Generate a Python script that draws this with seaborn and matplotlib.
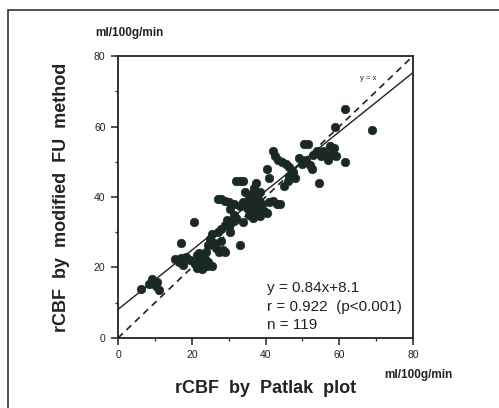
import numpy as np
import pandas as pd
import seaborn as sns
import matplotlib.pyplot as plt
from matplotlib.patches import Rectangle
from matplotlib.ticker import MultipleLocator

# ------------------------------
# Data
# ------------------------------
patlak = [
    6.3, 8.5, 9.2, 9.8, 10.3, 11.0, 10.6,
    15.5, 16.5, 17.0, 17.5, 18.5, 19.5, 17.2, 20.5,
    21.0, 21.5, 22.0, 22.3, 22.8, 23.0, 23.5, 24.0, 24.5, 22.0, 23.8, 21.5, 25.5,
    24.5, 25.0, 25.5, 26.0, 26.5, 27.5, 28.5, 27.8, 29.0,
    27.0, 28.0, 29.0, 30.0, 30.5, 29.5, 31.0, 31.5, 32.0, 30.5, 33.0, 34.0,
    27.0, 28.0, 29.0, 30.0, 31.5, 32.0, 33.0, 34.0,
    33.0, 34.0, 35.0, 35.5, 36.0, 36.5, 37.0, 37.5, 38.0, 38.5, 35.5, 36.5, 37.0,
    36.0, 38.0, 38.5, 37.5, 34.5, 39.5, 39.0, 40.5, 41.0, 42.0, 43.0, 44.0,
    40.5, 41.0, 42.0, 42.5, 43.5, 44.5, 45.5, 46.5, 45.0, 46.0, 46.5, 47.5, 48.0,
    49.0, 50.0, 51.0, 52.0, 52.5, 50.5, 51.5, 53.0, 54.0, 54.5, 55.0, 55.5, 56.0,
    57.0, 57.5, 58.0, 58.5, 58.5, 57.0, 59.0,
    58.8, 61.5, 61.5, 68.8,
]
fu_method = [
    13.8, 15.2, 16.8, 15.5, 14.8, 13.5, 16.0,
    22.5, 21.5, 22.8, 20.8, 23.0, 22.0, 27.0, 33.0,
    21.0, 23.5, 22.0, 20.0, 19.5, 21.5, 22.5, 20.5, 21.5, 24.0, 24.5, 19.8, 20.5,
    26.5, 28.0, 29.5, 27.0, 25.5, 24.5, 25.0, 27.5, 24.5,
    30.0, 31.0, 32.0, 31.5, 30.0, 33.5, 33.0, 35.0, 34.0, 36.5, 26.5, 33.0,
    39.5, 39.5, 39.0, 38.5, 38.0, 44.5, 44.5, 44.5,
    37.5, 38.5, 37.0, 35.0, 36.5, 34.0, 37.5, 35.5, 36.5, 34.5, 40.0, 41.0, 42.5,
    39.0, 39.5, 41.5, 44.0, 41.5, 36.0, 38.0, 35.5, 38.5, 39.0, 38.0, 38.0,
    48.0, 45.5, 53.0, 51.5, 50.5, 50.0, 49.5, 48.5, 43.0, 44.5, 46.0, 47.0, 45.5,
    51.0, 49.5, 50.5, 49.0, 48.0, 55.0, 55.0, 52.0, 53.0, 44.0, 51.5, 53.0, 52.0,
    51.5, 54.5, 53.0, 52.0, 54.0, 50.5, 51.5,
    60.0, 65.0, 50.0, 59.0,
]

fit_slope = 0.84
fit_intercept = 8.1
stats_lines = ["y = 0.84x+8.1", "r = 0.922  (p<0.001)", "n = 119"]

axis_ticks = [0, 20, 40, 60, 80]
unit_label = "ml/100g/min"

df = pd.DataFrame({"patlak": patlak, "fu": fu_method})

POINT_COLOR = "#1b2924"
TEXT_COLOR = "#222222"

sns.set_theme(style="ticks")
plt.rcParams["font.family"] = ["Liberation Sans", "DejaVu Sans"]

fig = plt.figure(figsize=(4.99, 4.08), dpi=100)
ax = fig.add_axes([0.2365, 0.1716, 0.5912, 0.6911])

# panel border of the scanned figure (right edge runs off the page)
fig.patches.append(Rectangle((8 / 499, -0.01), 1.2, 1 - 10 / 408 + 0.01,
                             transform=fig.transFigure, fill=False,
                             edgecolor="#333333", linewidth=1.2))

# ----------------------------------
# identity and regression lines
# ----------------------------------
ax.axline((0, 0), slope=1, color=TEXT_COLOR, linestyle=(0, (4, 3)),
          linewidth=1.2, zorder=1)
ax.axline((0, fit_intercept), slope=fit_slope, color=TEXT_COLOR,
          linewidth=1.0, zorder=1)

sns.scatterplot(data=df, x="patlak", y="fu", ax=ax, color=POINT_COLOR,
                s=40, edgecolor=POINT_COLOR, linewidth=0.3, zorder=3)

ax.set_xlim(0, 80)
ax.set_ylim(0, 80)
ax.set_xticks(axis_ticks)
ax.set_yticks(axis_ticks)
ax.xaxis.set_minor_locator(MultipleLocator(10))
ax.yaxis.set_minor_locator(MultipleLocator(10))
ax.tick_params(which="major", direction="out", length=5, width=1.1,
               labelsize=7.5, colors=TEXT_COLOR, pad=4)
ax.tick_params(which="minor", direction="out", length=2.5, width=0.9)

for side in ["top", "right", "left", "bottom"]:
    ax.spines[side].set_visible(True)
    ax.spines[side].set_linewidth(1.3)
    ax.spines[side].set_color(TEXT_COLOR)

ax.set_xlabel("rCBF  by  Patlak  plot", fontsize=13, fontweight="bold",
              color=TEXT_COLOR, labelpad=14)
ax.set_ylabel("rCBF  by  modified  FU  method", fontsize=13,
              fontweight="bold", color=TEXT_COLOR, labelpad=17)

ax.text(65.5, 73.5, "y = x", fontsize=5.5, color=TEXT_COLOR,
        ha="left", va="center")

for i, line in enumerate(stats_lines):
    ax.text(40.5, 14.2 - i * 5.3, line, fontsize=11, color=TEXT_COLOR,
            ha="left", va="center")

fig.text(95 / 499, 1 - 33 / 408, unit_label, fontsize=8.5, fontweight="bold",
         color=TEXT_COLOR, ha="left", va="center")
fig.text(384 / 499, 1 - 375 / 408, unit_label, fontsize=8.5, fontweight="bold",
         color=TEXT_COLOR, ha="left", va="center")

fig.savefig("out.png", dpi=100, facecolor="white")
plt.close(fig)
